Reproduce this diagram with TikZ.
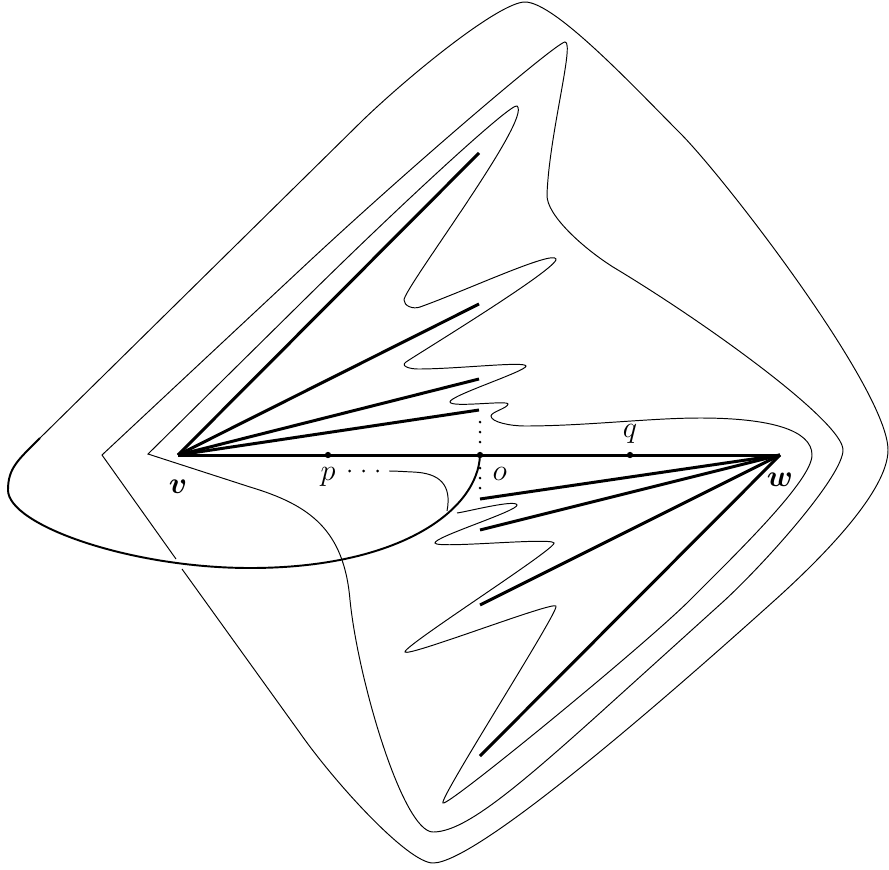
\documentclass[tikz,border=0pt]{standalone}
\usepackage{amsmath}
\usepackage{amssymb}
\usetikzlibrary{positioning}

\begin{document}
\begin{tikzpicture}[
    x=0.02cm, y=-0.02cm,
    seg/.style={line width=1.7pt},
    curve/.style={line width=0.55pt},
    bigloop/.style={line width=1.1pt},
    dot/.style={circle, fill, inner sep=0pt, minimum size=3.6pt},
    lbl/.style={font=\LARGE, inner sep=1pt},
    dotrow/.style={line width=1.7pt, line cap=round, dash pattern=on 0pt off #1}
]
\useasboundingbox (0,0) rectangle (889,869);

% points on the axis
\coordinate (v) at (178,455);
\coordinate (w) at (780,455);
\node[dot] (p) at (328,455) {};
\node[dot] (o) at (480,455) {};
\node[dot] (q) at (630,455) {};

% ends of the two fans
\coordinate (a1) at (479,153);
\coordinate (a2) at (479,304);
\coordinate (a3) at (479,379);
\coordinate (a4) at (479,410);
\coordinate (b1) at (480,499);
\coordinate (b2) at (480,530);
\coordinate (b3) at (480,605);
\coordinate (b4) at (480,756);
\coordinate (pend) at (389,471);

% the long curve, outer turn, middle turn, inner turn
\draw[curve] (40,438) -- (363,120)
  .. controls +(50,-48) and +(-25,0) .. (525,2)
  .. controls +(30,0) and +(-45,-45) .. (680,133)
  .. controls +(45,45) and +(0,-60) .. (888,450)
  .. controls +(0,40) and +(50,-45) .. (775,600)
  .. controls +(-100,90) and +(45,0) .. (433,863)
  .. controls +(-25,0) and +(35,50) .. (300,733)
  -- (182,569) (176,559) -- (102,455)
  -- (300,270)
  .. controls +(110,-103) and +(-8,0) .. (565,42)
  .. controls +(10,0) and +(2,-60) .. (547,195)
  .. controls +(-0.6,20) and +(-30,-19) .. (613,267)
  .. controls +(95,57) and +(0,-28) .. (843,450)
  .. controls +(0,25) and +(45,-42) .. (725,600)
  -- (600,713)
  .. controls +(-90,81) and +(30,0) .. (433,832)
  .. controls +(-30,0) and +(8,80) .. (350,600)
  .. controls +(-6,-70) and +(60,18) .. (250,487)
  -- (148,454)
  -- (300,304)
  .. controls +(100,-99) and +(-5,-4) .. (517,106)
  .. controls +(16,12) and +(0,-12) .. (404,300)
  .. controls +(0,6) and +(-7,2.5) .. (420,307)
  .. controls +(45,-16) and +(-3,-9) .. (556,259)
  .. controls +(3,9) and +(10,-7) .. (406,362)
  .. controls +(-6,4.2) and +(-8,0) .. (418,369)
  .. controls +(40,0) and +(-1,-5) .. (526,366)
  .. controls +(1,5) and +(-1.3,-6) .. (450,402)
  .. controls +(1.3,6) and +(0,-4) .. (508,404)
  .. controls +(0,4) and +(0,-4) .. (491,416)
  .. controls +(0,6) and +(-15,0) .. (525,426)
  .. controls +(60,0) and +(-50,0) .. (700,418)
  .. controls +(70,0) and +(0,-25) .. (812,455)
  .. controls +(0,25) and +(50,-50) .. (690,600)
  .. controls +(-45,45) and +(4.5,4) .. (443,803)
  .. controls +(-4.5,-4) and +(3.7,4.7) .. (556,606)
  .. controls +(-3.7,-4.7) and +(2.7,5.3) .. (405,652)
  .. controls +(-2.7,-5.3) and +(2,6) .. (554,543)
  .. controls +(-2,-6) and +(1.3,6) .. (435,543)
  .. controls +(-1.3,-6) and +(1,6) .. (517,505)
  .. controls +(-1,-6) and +(10,-1.3) .. (457,513);
\draw[curve] (447,511) .. controls +(5,-26) and +(27,1) .. (413,472)
  .. controls +(-10,-0.4) and +(8,0) .. (pend);

% the first stretch, from o round the left
\draw[bigloop] (o.center) .. controls (478,510) and (400,568) .. (250,568)
  .. controls (130,568) and (8,525) .. (8,490)
  .. controls (8,468) and (18,460) .. (40,438);

% fans
\draw[seg] (v) -- (w);
\foreach \e in {a1,a2,a3,a4} \draw[seg] (v) -- (\e);
\foreach \e in {b1,b2,b3,b4} \draw[seg] (w) -- (\e);

% dotted bits
\draw[dotrow=5.69pt, shorten <=7.4pt, shorten >=4.5pt] (o.center) -- (o |- a4);
\draw[dotrow=5.69pt, shorten <=7.4pt, shorten >=4.5pt] (o.center) -- (o |- b1);

% labels
\node[lbl, below=13.2pt of v] (vlab) {$\boldsymbol{v}$};
\node[lbl, below=9.2pt of w] (wlab) {$\boldsymbol{w}$};
\node[lbl, below=4pt of p] (plab) {$p$};
\node[lbl, below right=4.5pt and 4.5pt of o] (olab) {$o$};
\node[lbl, above=3.5pt of q] (qlab) {$q$};
\draw[dotrow=7.97pt, shorten <=6.8pt] (plab.east |- pend) -- (pend);

\end{tikzpicture}
\end{document}
